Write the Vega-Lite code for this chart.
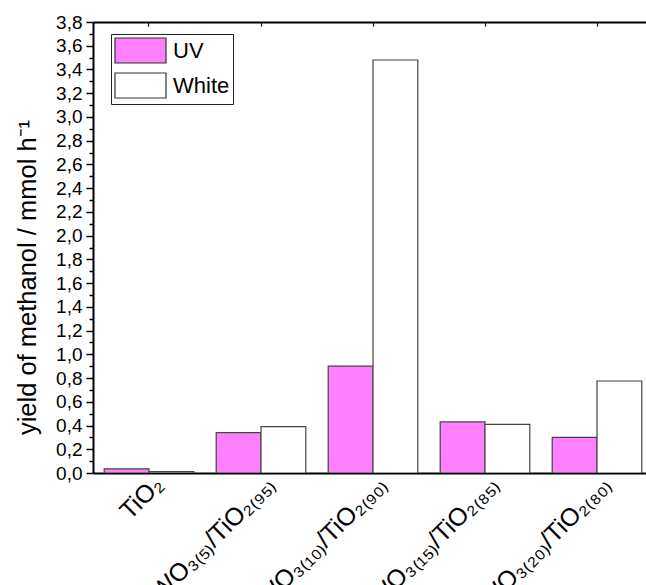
{
  "$schema": "https://vega.github.io/schema/vega-lite/v6.json",
  "width": 553,
  "height": 451,
  "autosize": "none",
  "padding": {"left": 93, "top": 22, "right": 0, "bottom": 112},
  "background": "white",
  "config": {
    "font": "Liberation Sans",
    "view": {"stroke": null},
    "axis": {"labelFont": "Liberation Sans", "titleFont": "Liberation Sans", "labelColor": "black", "titleColor": "black", "domainColor": "black", "tickColor": "black", "grid": false}
  },
  "data": {
    "values": [
      {"sample": "TiO₂", "light": "UV", "yield": 0.035},
      {"sample": "TiO₂", "light": "White", "yield": 0.012},
      {"sample": "WO₃₍₅₎/TiO₂₍₉₅₎", "light": "UV", "yield": 0.34},
      {"sample": "WO₃₍₅₎/TiO₂₍₉₅₎", "light": "White", "yield": 0.39},
      {"sample": "WO₃₍₁₀₎/TiO₂₍₉₀₎", "light": "UV", "yield": 0.90},
      {"sample": "WO₃₍₁₀₎/TiO₂₍₉₀₎", "light": "White", "yield": 3.48},
      {"sample": "WO₃₍₁₅₎/TiO₂₍₈₅₎", "light": "UV", "yield": 0.43},
      {"sample": "WO₃₍₁₅₎/TiO₂₍₈₅₎", "light": "White", "yield": 0.41},
      {"sample": "WO₃₍₂₀₎/TiO₂₍₈₀₎", "light": "UV", "yield": 0.30},
      {"sample": "WO₃₍₂₀₎/TiO₂₍₈₀₎", "light": "White", "yield": 0.775}
    ]
  },
  "resolve": {"axis": {"x": "independent", "y": "independent"}},
  "layer": [
    {
      "mark": {"type": "bar", "stroke": "#444444", "strokeWidth": 1.2, "clip": true},
      "encoding": {
        "x": {
          "field": "sample", "type": "nominal", "sort": null,
          "scale": {"range": [0, 560], "paddingInner": 0.2, "paddingOuter": 0.1},
          "axis": {"orient": "bottom", "title": null, "labelAngle": -45, "labelFontSize": 25, "labelAlign": "right", "labelBaseline": "middle", "labelDx": 16, "labelDy": 13, "labelOffset": 10, "tickSize": 0, "domainWidth": 2, "labelPadding": 7}
        },
        "xOffset": {"field": "light", "type": "nominal"},
        "y": {
          "field": "yield", "type": "quantitative", "stack": null,
          "scale": {"domain": [0, 3.8], "nice": false, "zero": true},
          "axis": {
            "orient": "left",
            "title": "yield of methanol / mmol h⁻¹",
            "titleFontSize": 25.5, "titleFontWeight": "normal",
            "titleX": -58, "titleY": 255, "titleBaseline": "alphabetic", "titleAlign": "center", "titleAngle": -90,
            "values": [0, 0.2, 0.4, 0.6, 0.8, 1.0, 1.2, 1.4, 1.6, 1.8, 2.0, 2.2, 2.4, 2.6, 2.8, 3.0, 3.2, 3.4, 3.6, 3.8],
            "labelExpr": "replace(format(datum.value, '.1f'), '.', ',')",
            "labelFontSize": 19, "labelPadding": 4, "tickSize": 7, "tickWidth": 1.5, "domainWidth": 2
          }
        },
        "color": {
          "field": "light", "type": "nominal",
          "scale": {"domain": ["UV", "White"], "range": ["#FF80FF", "#FFFFFF"]},
          "legend": {
            "orient": "none", "legendX": 18, "legendY": 12, "title": null,
            "symbolType": "M-1,-1H3.08V1H-1Z", "symbolSize": 625,
            "symbolStrokeColor": "#333333", "symbolStrokeWidth": 1.2, "symbolOpacity": 1,
            "labelFontSize": 22, "labelFont": "Liberation Sans", "labelColor": "black", "labelOffset": 32,
            "rowPadding": 4, "padding": 3, "strokeColor": "#222222", "fillColor": "white"
          }
        }
      }
    },
    {
      "mark": {"type": "bar", "opacity": 0},
      "encoding": {
        "x": {
          "field": "sample", "type": "nominal", "sort": null,
          "axis": {"orient": "top", "title": null, "labels": false, "tickSize": -4, "tickWidth": 1.2, "domainWidth": 2}
        },
        "y": {
          "field": "yield", "type": "quantitative", "stack": null,
          "axis": {"orient": "left", "title": null, "labels": false, "domain": false, "tickSize": 4, "tickWidth": 1.5,
            "values": [0.1, 0.3, 0.5, 0.7, 0.9, 1.1, 1.3, 1.5, 1.7, 1.9, 2.1, 2.3, 2.5, 2.7, 2.9, 3.1, 3.3, 3.5, 3.7]}
        }
      }
    }
  ]
}
